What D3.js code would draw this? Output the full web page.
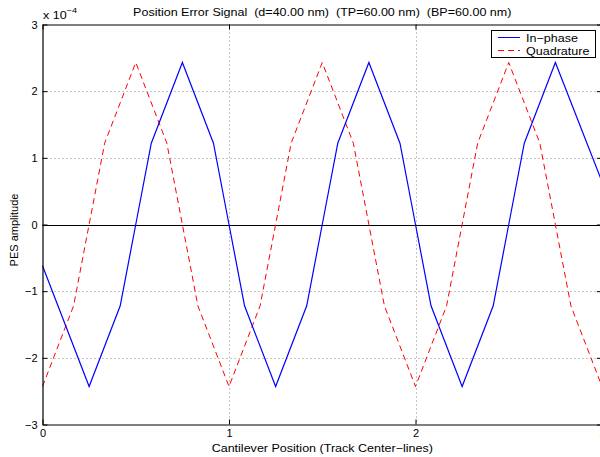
<!DOCTYPE html>
<html>
<head>
<meta charset="utf-8">
<script src="https://cdn.jsdelivr.net/npm/d3@7"></script>
<style>
  html, body { margin: 0; padding: 0; background: #fff; }
  svg { display: block; font-family: "Liberation Sans", Arial, Helvetica, sans-serif; }
  text { white-space: pre; }
</style>
</head>
<body>
<svg id="chart" width="600" height="457"></svg>
<script>
// Cantilever position in track center-lines
const inPhaseX = [0, 0.25, 0.4167, 0.5, 0.5833, 0.75, 0.9167, 1.0, 1.0833, 1.25, 1.4167, 1.5,
                  1.5833, 1.75, 1.9167, 2.0, 2.0833, 2.25, 2.4167, 2.5, 2.5833, 2.75, 3.0];
// In-phase PES amplitude (x 1e-4)
const inPhaseY = [-0.62, -2.43, -1.22, 0, 1.22, 2.43, 1.22, 0, -1.22, -2.43, -1.22, 0,
                  1.22, 2.43, 1.22, 0, -1.22, -2.43, -1.22, 0, 1.22, 2.43, 0.64];

const quadX = [0, 0.1667, 0.25, 0.3333, 0.5, 0.6667, 0.75, 0.8333, 1.0, 1.1667, 1.25, 1.3333,
               1.5, 1.6667, 1.75, 1.8333, 2.0, 2.1667, 2.25, 2.3333, 2.5, 2.6667, 2.75, 2.8333, 3.0];
// Quadrature PES amplitude (x 1e-4)
const quadY = [-2.43, -1.22, 0, 1.22, 2.43, 1.22, 0, -1.22, -2.43, -1.22, 0, 1.22,
               2.43, 1.22, 0, -1.22, -2.43, -1.22, 0, 1.22, 2.43, 1.22, 0, -1.22, -2.43];

const xTicks = [0, 1, 2, 3];
const yTicks = [-3, -2, -1, 0, 1, 2, 3];
const xGrid = [1, 2];
const yGrid = [-2, -1, 1, 2];

const titleText = "Position Error Signal  (d=40.00 nm)  (TP=60.00 nm)  (BP=60.00 nm)";
const xLabel = "Cantilever Position (Track Center\u2212lines)";
const yLabel = "PES amplitude";
const seriesNames = ["In\u2212phase", "Quadrature"];

const svg = d3.select("#chart");
const plotL = 42.5, plotR = 602, plotT = 24.5, plotB = 424.5;
const stretch = 1.14;   // horizontal widening of the label face

const x = d3.scaleLinear().domain([0, 3]).range([plotL, plotR]);
const y = d3.scaleLinear().domain([-3, 3]).range([plotB, plotT]);

// helper: horizontal text anchored at (px, py), widened along x
function label(px, py, str, anchor) {
  return svg.append("text")
    .attr("transform", `translate(${px},${py}) scale(${stretch},1)`)
    .attr("text-anchor", anchor || "start")
    .attr("font-size", 11).text(str);
}

// dotted grid
const grid = svg.append("g").attr("stroke", "#8a8a8a").attr("stroke-width", 1)
  .attr("stroke-dasharray", "1,3");
grid.selectAll("line.gx").data(xGrid).join("line").attr("class", "gx")
  .attr("x1", d => Math.round(x(d)) + 0.5).attr("x2", d => Math.round(x(d)) + 0.5)
  .attr("y1", plotT).attr("y2", plotB);
grid.selectAll("line.gy").data(yGrid).join("line").attr("class", "gy")
  .attr("y1", d => Math.round(y(d)) + 0.5).attr("y2", d => Math.round(y(d)) + 0.5)
  .attr("x1", plotL).attr("x2", plotR);

// zero reference line
svg.append("line")
  .attr("x1", plotL).attr("x2", plotR)
  .attr("y1", Math.round(y(0)) + 0.5).attr("y2", Math.round(y(0)) + 0.5)
  .attr("stroke", "#000").attr("stroke-width", 1.2);

const line = d3.line().x(d => x(d[0])).y(d => y(d[1]));

svg.append("path")
  .datum(quadX.map((v, i) => [v, quadY[i]]))
  .attr("d", line).attr("fill", "none")
  .attr("stroke", "#ff0000").attr("stroke-width", 1).attr("stroke-dasharray", "6,4");

svg.append("path")
  .datum(inPhaseX.map((v, i) => [v, inPhaseY[i]]))
  .attr("d", line).attr("fill", "none")
  .attr("stroke", "#0000ff").attr("stroke-width", 1.2);

// axes (ticks point inward)
const axisFont = g => g.selectAll("text").attr("font-size", 11).attr("fill", "#000")
  .attr("font-family", "Liberation Sans, Arial, sans-serif");

svg.append("g").attr("transform", `translate(0,${plotB})`)
  .call(d3.axisBottom(x).tickValues(xTicks).tickFormat(d3.format("d"))
    .tickSizeInner(-5).tickSizeOuter(0).tickPadding(5))
  .call(axisFont)
  .call(g => g.select(".domain").attr("stroke-width", 1.2));

svg.append("g").attr("transform", `translate(0,${plotT})`)
  .call(d3.axisTop(x).tickValues(xTicks).tickFormat("")
    .tickSizeInner(-5).tickSizeOuter(0))
  .call(g => g.select(".domain").attr("stroke-width", 1.2));

svg.append("g").attr("transform", `translate(${plotL},0)`)
  .call(d3.axisLeft(y).tickValues(yTicks).tickFormat(d => d < 0 ? "\u2212" + Math.abs(d) : d)
    .tickSizeInner(-5).tickSizeOuter(0).tickPadding(5))
  .call(axisFont)
  .call(g => g.select(".domain").attr("stroke-width", 1.2));

svg.append("g").attr("transform", `translate(${plotR},0)`)
  .call(d3.axisRight(y).tickValues(yTicks).tickFormat("")
    .tickSizeInner(-5).tickSizeOuter(0))
  .call(g => g.select(".domain").attr("stroke-width", 1.2));

// exponent label
const expo = label(43, 18.5, "");
expo.append("tspan").text("x 10");
expo.append("tspan").attr("dy", -6).attr("font-size", 8).text("\u22124");

// title and axis labels
label((plotL + plotR) / 2, 16, titleText, "middle");
label((plotL + plotR) / 2, 452, xLabel, "middle");

svg.append("text").attr("transform", "translate(18,230) rotate(-90)")
  .attr("text-anchor", "middle").attr("font-size", 11).text(yLabel);

// legend
const lg = svg.append("g");
lg.append("rect").attr("x", 491.5).attr("y", 30.5).attr("width", 104).attr("height", 27)
  .attr("fill", "#fff").attr("stroke", "#000").attr("stroke-width", 1);
const entries = [
  { name: seriesNames[0], color: "#0000ff", dash: null },
  { name: seriesNames[1], color: "#ff0000", dash: "6,4" }
];
entries.forEach((e, i) => {
  const yy = 37.5 + i * 13;
  lg.append("line").attr("x1", 498).attr("x2", 520).attr("y1", yy).attr("y2", yy)
    .attr("stroke", e.color).attr("stroke-width", 1).attr("stroke-dasharray", e.dash);
  label(526, yy + 4, e.name);
});
</script>
</body>
</html>
